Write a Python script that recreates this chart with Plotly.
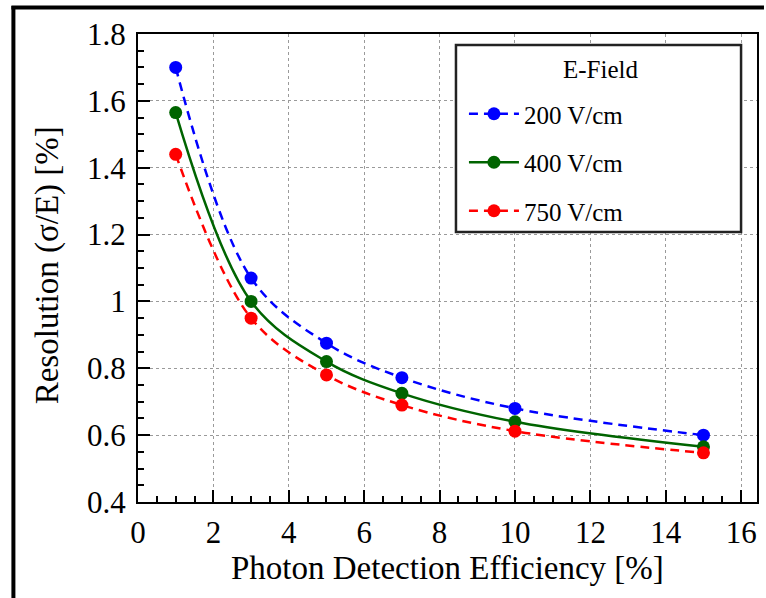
import plotly.graph_objects as go

# ---- data ----
pde = [1, 3, 5, 7, 10, 15]
res_200 = [1.70, 1.07, 0.875, 0.772, 0.680, 0.600]
res_400 = [1.565, 1.00, 0.820, 0.725, 0.640, 0.565]
res_750 = [1.44, 0.95, 0.780, 0.690, 0.612, 0.547]
series_names = ["200 V/cm", "400 V/cm", "750 V/cm"]
series_colors = ["#0000ff", "#006400", "#ff0000"]
series_dash = ["dash", "solid", "dash"]
x_ticks = [0, 2, 4, 6, 8, 10, 12, 14, 16]
y_ticks = [0.4, 0.6, 0.8, 1.0, 1.2, 1.4, 1.6, 1.8]
y_ticktext = ["0.4", "0.6", "0.8", "1", "1.2", "1.4", "1.6", "1.8"]

W, H = 766, 598
L, R, T, B = 138, 759, 34, 502
PW, PH = R - L, B - T


def px(x):
    return (x - L) / PW


def py(y):
    return (B - y) / PH


FONT = "Liberation Serif, Times New Roman, serif"

fig = go.Figure()
for name, vals, col, dash in zip(series_names, [res_200, res_400, res_750], series_colors, series_dash):
    fig.add_trace(go.Scatter(
        x=pde, y=vals, name=name, mode="lines+markers",
        line=dict(color=col, width=2.5, dash=("9px,6px" if dash == "dash" else "solid"), shape="spline", smoothing=1.0),
        marker=dict(color=col, size=13),
        legendgroup=name,
    ))

axis_common = dict(
    showline=True, linecolor="black", linewidth=2, mirror=True,
    ticks="inside", ticklen=12, tickwidth=2, tickcolor="black",
    showgrid=True, gridcolor="#9a9a9a", griddash="dot", gridwidth=1,
    zeroline=False,
    tickfont=dict(family=FONT, size=31, color="black"),
)

fig.update_xaxes(range=[0, 16.42], tickvals=x_ticks, ticklabelstandoff=2,
                 minor=dict(dtick=0.5, ticks="inside", ticklen=6, tickwidth=2, tickcolor="black", showgrid=False),
                 **axis_common)
fig.update_yaxes(range=[0.4, 1.8], tickvals=y_ticks, ticktext=y_ticktext, ticklabelstandoff=4,
                 minor=dict(dtick=0.05, ticks="inside", ticklen=6, tickwidth=2, tickcolor="black", showgrid=False),
                 **axis_common)

shapes = [
    # legend box
    dict(type="rect", xref="paper", yref="paper", x0=px(457), x1=px(743), y0=py(232), y1=py(45),
         line=dict(color="#222222", width=2.5), fillcolor="white", layer="above"),
    # figure border lines (top and left)
    dict(type="line", xref="paper", yref="paper", x0=px(11), x1=px(766), y0=py(7.5), y1=py(7.5),
         line=dict(color="black", width=4)),
    dict(type="line", xref="paper", yref="paper", x0=px(13), x1=px(13), y0=py(6), y1=py(598),
         line=dict(color="black", width=4)),
]

annotations = [
    dict(text="E-Field", xref="paper", yref="paper", x=px(602), y=py(70), showarrow=False,
         font=dict(family=FONT, size=25, color="black"), xanchor="center", yanchor="middle"),
    dict(text="Photon Detection Efficiency [%]", xref="paper", yref="paper", x=px(448), y=py(568),
         showarrow=False, font=dict(family=FONT, size=33, color="black"), xanchor="center", yanchor="middle"),
    dict(text="Resolution (σ/E) [%]", xref="paper", yref="paper", x=px(47), y=py(265), textangle=-90,
         showarrow=False, font=dict(family=FONT, size=33, color="black"), xanchor="center", yanchor="middle"),
]

fig.update_layout(
    width=W, height=H,
    margin=dict(l=L, r=W - R, t=T, b=H - B, pad=0),
    paper_bgcolor="white", plot_bgcolor="white",
    shapes=shapes, annotations=annotations,
    showlegend=True,
    legend=dict(x=px(465), y=py(91), xanchor="left", yanchor="top",
                bgcolor="rgba(0,0,0,0)", borderwidth=0,
                font=dict(family=FONT, size=25, color="black"),
                itemwidth=50, tracegroupgap=13),
)

fig.write_html("out.html", config={"displayModeBar": False},
               post_script="document.body.style.margin='0';document.body.style.padding='0';")
